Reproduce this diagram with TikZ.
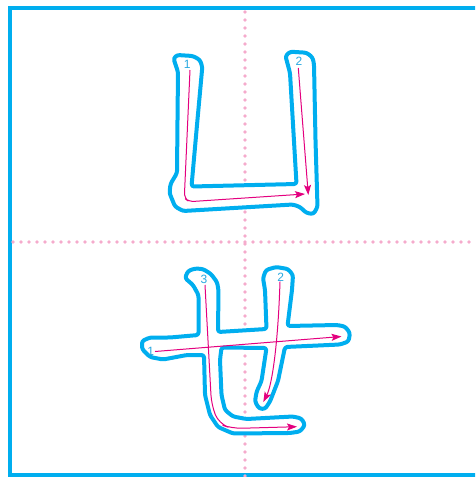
\documentclass[tikz,border=0pt]{standalone}
\usepackage{fontspec}
\setsansfont{Liberation Sans}
\usetikzlibrary{arrows.meta}
\definecolor{outblue}{HTML}{00AEEF}
\definecolor{numblue}{HTML}{29A9E0}
\definecolor{arrpink}{HTML}{E4007F}
\definecolor{dotpink}{HTML}{F5ABCC}
\tikzset{
  frame/.style={draw=outblue, line width=4pt},
  dotline/.style={draw=dotpink, line width=3.6pt, line cap=round, dash pattern=on 0pt off 8pt},
  outline/.style={draw=outblue, fill=white, line width=4pt, line join=round, rounded corners=2.5pt},
  guide/.style={draw=arrpink, line width=1pt, -{Stealth[length=10pt,width=7pt,inset=2pt]}},
  num/.style={text=numblue, font=\sffamily\fontsize{12}{12}\selectfont, inner sep=0pt}
}
\begin{document}
\begin{tikzpicture}[x=1pt,y=-1pt]
\useasboundingbox (0,0) rectangle (475,477);
\clip (0,0) rectangle (475,477);
% frame
\draw[frame] (10,8) rectangle (490,475);
% dotted centre lines
\draw[dotline] (245,12) -- (245,477);
\draw[dotline] (13,242) -- (475,242);
% character 1 outline
\draw[outline] (173.5,58.5) -- (177,55) -- (193,56) -- (200,60) -- (202.3,67)
  -- (197,125) -- (191.5,186.5) -- (296.5,184) -- (290,73) -- (285.5,56)
  -- (290,51.7) -- (306.5,52.7) -- (312.5,57.3) -- (314,64) -- (315.5,140)
  -- (317.5,207) -- (313.5,214) -- (306.5,213) -- (300,207) -- (293,204.5)
  -- (183,211) -- (175,206.5) -- (169.5,193) -- (170.5,184) -- (177,173)
  -- (177.5,120) -- (178,72) -- cycle;
% character 1 guides
\draw[guide, rounded corners=5pt] (190,70) -- (184.3,198) -- (189,201.7) -- (305,194);
\draw[guide] (298.3,68) -- (308.3,195);
\node[num] (a1) at (187.3,64) {1};
\node[num] (a2) at (299,61.5) {2};
% character 2 outline
\draw[outline] (185,278) -- (188,271) -- (195,268.5) -- (203,269) -- (211,274)
  -- (217,282) -- (218.5,290) -- (218,332) -- (266.5,329) -- (265,290)
  -- (263,278) -- (266,270) -- (276,267) -- (288,269) -- (293,275) -- (292,290)
  -- (287.5,326) -- (337,325) -- (345,326.5) -- (350,333) -- (348.5,341.5)
  -- (340,344.5) -- (285,347) -- (278,381) -- (270,401.5) -- (265,409)
  -- (259,408.5) -- (255,401.5) -- (256.5,392) -- (261.5,381) -- (266.5,348)
  -- (221.5,347.5) -- (220,360) -- (221.5,395) -- (225,410) -- (233,416.5)
  -- (246.5,419) -- (293,416.5) -- (301.5,418.5) -- (305,425) -- (300,431.5)
  -- (290,433) -- (233,433.5) -- (218,427) -- (210,415) -- (205,395) -- (204,355)
  -- (187,355) -- (163,359.5) -- (150,357) -- (142,349) -- (142,341) -- (150,337.5)
  -- (170,337.5) -- (198.5,335) -- (198.5,295) -- (193,285) -- cycle;
% character 2 guides
\draw[guide] (155,351.5) -- (341.5,336.5);
\draw[guide] (280,281.7) .. controls (278,345) and (272,385) .. (263.3,402);
\draw[guide, rounded corners=10pt] (205,285) -- (211.5,405) -- (219,424) -- (232,428.5) -- (297,426.7);
\node[num] (b1) at (150.7,351) {1};
\node[num] (b2) at (280.7,277.7) {2};
\node[num] (b3) at (204,279) {3};
\end{tikzpicture}
\end{document}
